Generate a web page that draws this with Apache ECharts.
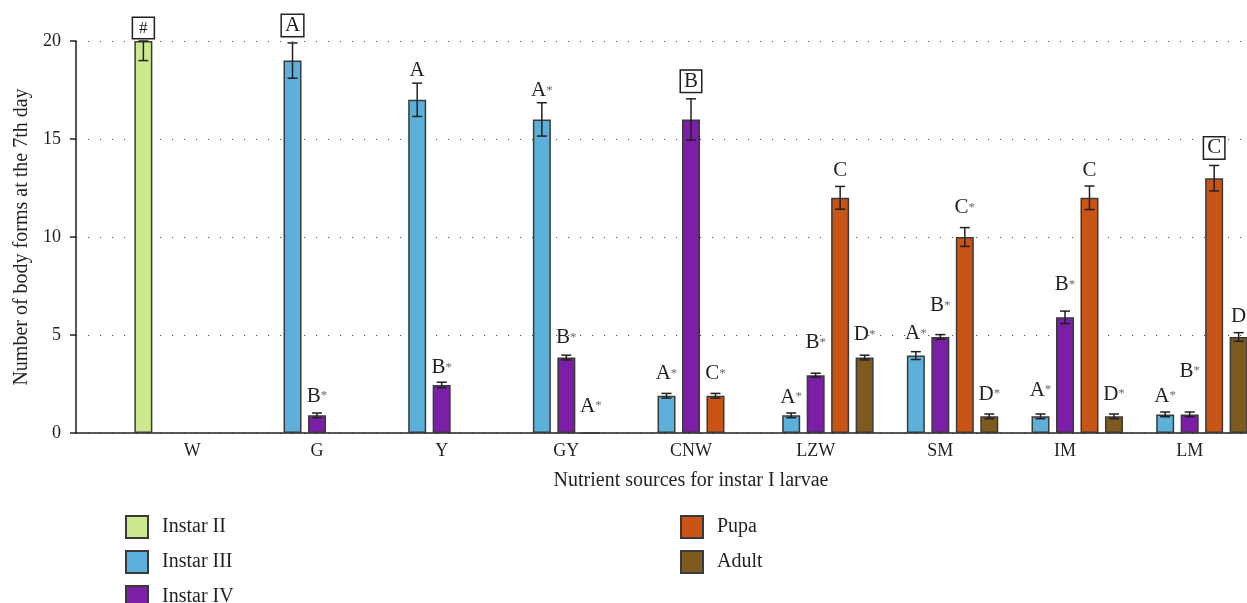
<!DOCTYPE html>
<html>
<head>
<meta charset="utf-8">
<script src="https://cdn.jsdelivr.net/npm/echarts@6/dist/echarts.min.js"></script>
<style>
  html, body { margin: 0; padding: 0; background: #ffffff; overflow: hidden; }
  /* the last group runs a few pixels past the right edge of the window */
  #chart { width: 1252px; height: 603px; }
</style>
</head>
<body>
<div id="chart"></div>
<script>
// Body forms counted on the 7th day, by nutrient source given to instar I larvae
const categories = ['W', 'G', 'Y', 'GY', 'CNW', 'LZW', 'SM', 'IM', 'LM'];
const seriesNames = ['Instar II', 'Instar III', 'Instar IV', 'Pupa', 'Adult'];

const instarII  = [20, null, null, null, null, null, null, null, null];
const instarIII = [null, 19, 17, 16, 1.9, 0.9, 3.95, 0.85, 0.95];
const instarIV  = [null, 0.9, 2.45, 3.85, 16, 2.95, 4.9, 5.9, 0.95];
const pupa      = [null, null, null, 0, 1.9, 12, 10, 12, 13];
const adult     = [null, null, null, null, null, 3.85, 0.85, 0.85, 4.9];

// standard deviations
const errII  = [1.0, null, null, null, null, null, null, null, null];
const errIII = [null, 0.9, 0.85, 0.85, 0.12, 0.12, 0.2, 0.12, 0.12];
const errIV  = [null, 0.12, 0.14, 0.12, 1.05, 0.1, 0.12, 0.32, 0.12];
const errPupa  = [null, null, null, 0, 0.12, 0.58, 0.48, 0.6, 0.65];
const errAdult = [null, null, null, null, null, 0.12, 0.12, 0.12, 0.22];

// significance letters
const lettersII  = ['#', null, null, null, null, null, null, null, null];
const lettersIII = [null, 'A', 'A', 'A*', 'A*', 'A*', 'A*', 'A*', 'A*'];
const lettersIV  = [null, 'B*', 'B*', 'B*', 'B', 'B*', 'B*', 'B*', 'B*'];
const lettersPupa  = [null, null, null, 'A*', 'C*', 'C', 'C*', 'C', 'C'];
const lettersAdult = [null, null, null, null, null, 'D*', 'D*', 'D*', 'D'];

// reference groups, drawn with a frame around the letter
const framedLetters = ['W|Instar II', 'G|Instar III', 'CNW|Instar IV', 'LM|Pupa'];

const values  = [instarII, instarIII, instarIV, pupa, adult];
const errors  = [errII, errIII, errIV, errPupa, errAdult];
const letters = [lettersII, lettersIII, lettersIV, lettersPupa, lettersAdult];

// ---- layout & style ----
const colors = ['#cce98f', '#5db0da', '#7b1fa7', '#c85415', '#7d5a1e'];
const FONT = "'Liberation Serif', 'DejaVu Serif', serif";
const INK = '#231f20';
const Y_MAX = 20;
const BAR_W = 18;
const BAR_GAP = 0.36;
const PITCH = BAR_W * (1 + BAR_GAP);
const LABEL_GAP = 9;      // letter baseline to top of error bar
const FRAME_GAP = 7;      // frame bottom to top of error bar
// extra lift (px) for individual letters
const labelLift = {
  'W|Instar II': -4, 'Y|Instar III': -3, 'GY|Instar III': -4,
  'G|Instar IV': 1, 'Y|Instar IV': -1, 'GY|Instar IV': 2, 'GY|Pupa': 11,
  'CNW|Instar III': 4, 'CNW|Pupa': 4,
  'LZW|Instar IV': 15, 'LZW|Adult': 5,
  'SM|Instar III': 2, 'SM|Instar IV': 13, 'SM|Pupa': 4, 'SM|Adult': 4,
  'IM|Instar III': 8, 'IM|Instar IV': 11, 'IM|Adult': 4,
  'LM|Instar IV': 25
};

const barSeries = seriesNames.map((name, s) => ({
  name: name,
  type: 'bar',
  xAxisIndex: 1,
  yAxisIndex: 1,
  barWidth: BAR_W,
  barGap: (BAR_GAP * 100) + '%',
  data: values[s],
  itemStyle: { color: colors[s], borderColor: '#3a3a3a', borderWidth: 1.5 },
  emphasis: { disabled: true },
  z: 2
}));

const errorSeries = seriesNames.map((name, s) => {
  const rows = [];
  const labels = [];
  values[s].forEach((v, c) => {
    if (v === null) return;
    rows.push([c, v, errors[s][c] || 0]);
    labels.push({ text: letters[s][c], key: categories[c] + '|' + name });
  });
  return {
    type: 'custom',
    xAxisIndex: 1,
    yAxisIndex: 1,
    data: rows,
    z: 5,
    silent: true,
    renderItem: function (params, api) {
      const c = api.value(0), v = api.value(1), e = api.value(2);
      const x = api.coord([c, 0])[0] + (s - 2) * PITCH;
      const hiVal = Math.min(v + e, Y_MAX);
      const yHi = api.coord([c, hiVal])[1];
      const yLo = api.coord([c, v - e])[1];
      const children = [];
      if (e > 0) {
        const ls = { stroke: INK, lineWidth: 1.5 };
        children.push({ type: 'line', shape: { x1: x, y1: yHi, x2: x, y2: yLo }, style: ls });
        children.push({ type: 'line', shape: { x1: x - 5, y1: yHi, x2: x + 5, y2: yHi }, style: ls });
        children.push({ type: 'line', shape: { x1: x - 5, y1: yLo, x2: x + 5, y2: yLo }, style: ls });
      }
      const lab = labels[params.dataIndex];
      if (lab.text) {
        const lift = labelLift[lab.key] || 0;
        const framed = framedLetters.indexOf(lab.key) >= 0;
        const letter = lab.text.replace('*', '');
        const star = lab.text.indexOf('*') >= 0;
        const rich = {
          l: { fontSize: lab.text === '#' ? 17 : 21, fontFamily: FONT, fill: INK },
          s: { fontSize: 13, fontFamily: FONT, fill: '#6a6a6a' }
        };
        const style = {
          text: '{l|' + letter + '}' + (star ? '{s|*}' : ''),
          rich: rich,
          x: x,
          y: framed ? yHi - FRAME_GAP - lift : yHi - LABEL_GAP - lift + 3.5,
          align: 'center',
          verticalAlign: 'bottom'
        };
        if (framed) {
          style.borderColor = INK;
          style.borderWidth = 1.5;
          style.backgroundColor = '#ffffff';
          style.padding = lab.text === '#' ? [2, 6, 1, 6] : [0, 3, 0, 3];
        }
        children.push({ type: 'text', style: style });
      }
      return { type: 'group', children: children };
    }
  };
});

const legendBase = {
  orient: 'vertical', top: 510, height: 110,
  itemWidth: 22, itemHeight: 22, itemGap: 11,
  icon: 'rect',
  textStyle: { fontFamily: FONT, fontSize: 20, color: INK, padding: [0, 0, 0, 9] },
  selectedMode: false
};

const chart = echarts.init(document.getElementById('chart'), null, { renderer: 'canvas' });
chart.setOption({
  animation: false,
  backgroundColor: '#ffffff',
  textStyle: { fontFamily: FONT, color: INK },
  grid: [
    // frame grid: value axis, dotted guides and baseline
    { left: 76, right: 5, top: 41, bottom: 170 },
    // bar grid
    { left: 130, right: 0, top: 41, bottom: 170 }
  ],
  legend: [
    Object.assign({}, legendBase, { data: seriesNames.slice(0, 3), left: 120 }),
    Object.assign({}, legendBase, { data: seriesNames.slice(3), left: 675 })
  ],
  xAxis: [
    {
      type: 'value', gridIndex: 0, min: 0, max: 1,
      axisLine: { show: true, onZero: false, lineStyle: { color: INK, width: 1.5 } },
      axisTick: { show: false }, axisLabel: { show: false }, splitLine: { show: false }
    },
    {
      type: 'category', gridIndex: 1, data: categories,
      axisLine: { show: false }, axisTick: { show: false },
      axisLabel: { fontFamily: FONT, fontSize: 18, color: INK, margin: 9 },
      name: 'Nutrient sources for instar I larvae',
      nameLocation: 'middle', nameGap: 38,
      nameTextStyle: { fontFamily: FONT, fontSize: 20, color: INK }
    }
  ],
  yAxis: [
    {
      type: 'value', gridIndex: 0, min: 0, max: Y_MAX, interval: 5,
      axisLine: { show: true, lineStyle: { color: INK, width: 1.5 } },
      axisTick: { show: true, length: 6, lineStyle: { color: INK, width: 1.5 } },
      axisLabel: { fontFamily: FONT, fontSize: 18, color: INK, margin: 15 },
      splitLine: { show: true, lineStyle: { color: '#555555', width: 1.2, type: [1.2, 10.8] } },
      name: 'Number of body forms at the 7th day',
      nameLocation: 'middle', nameGap: 43, nameRotate: 90,
      nameTextStyle: { fontFamily: FONT, fontSize: 20, color: INK }
    },
    {
      type: 'value', gridIndex: 1, min: 0, max: Y_MAX, interval: 5, show: false,
      splitLine: { show: false }
    }
  ],
  series: barSeries.concat(errorSeries)
});
</script>
</body>
</html>
